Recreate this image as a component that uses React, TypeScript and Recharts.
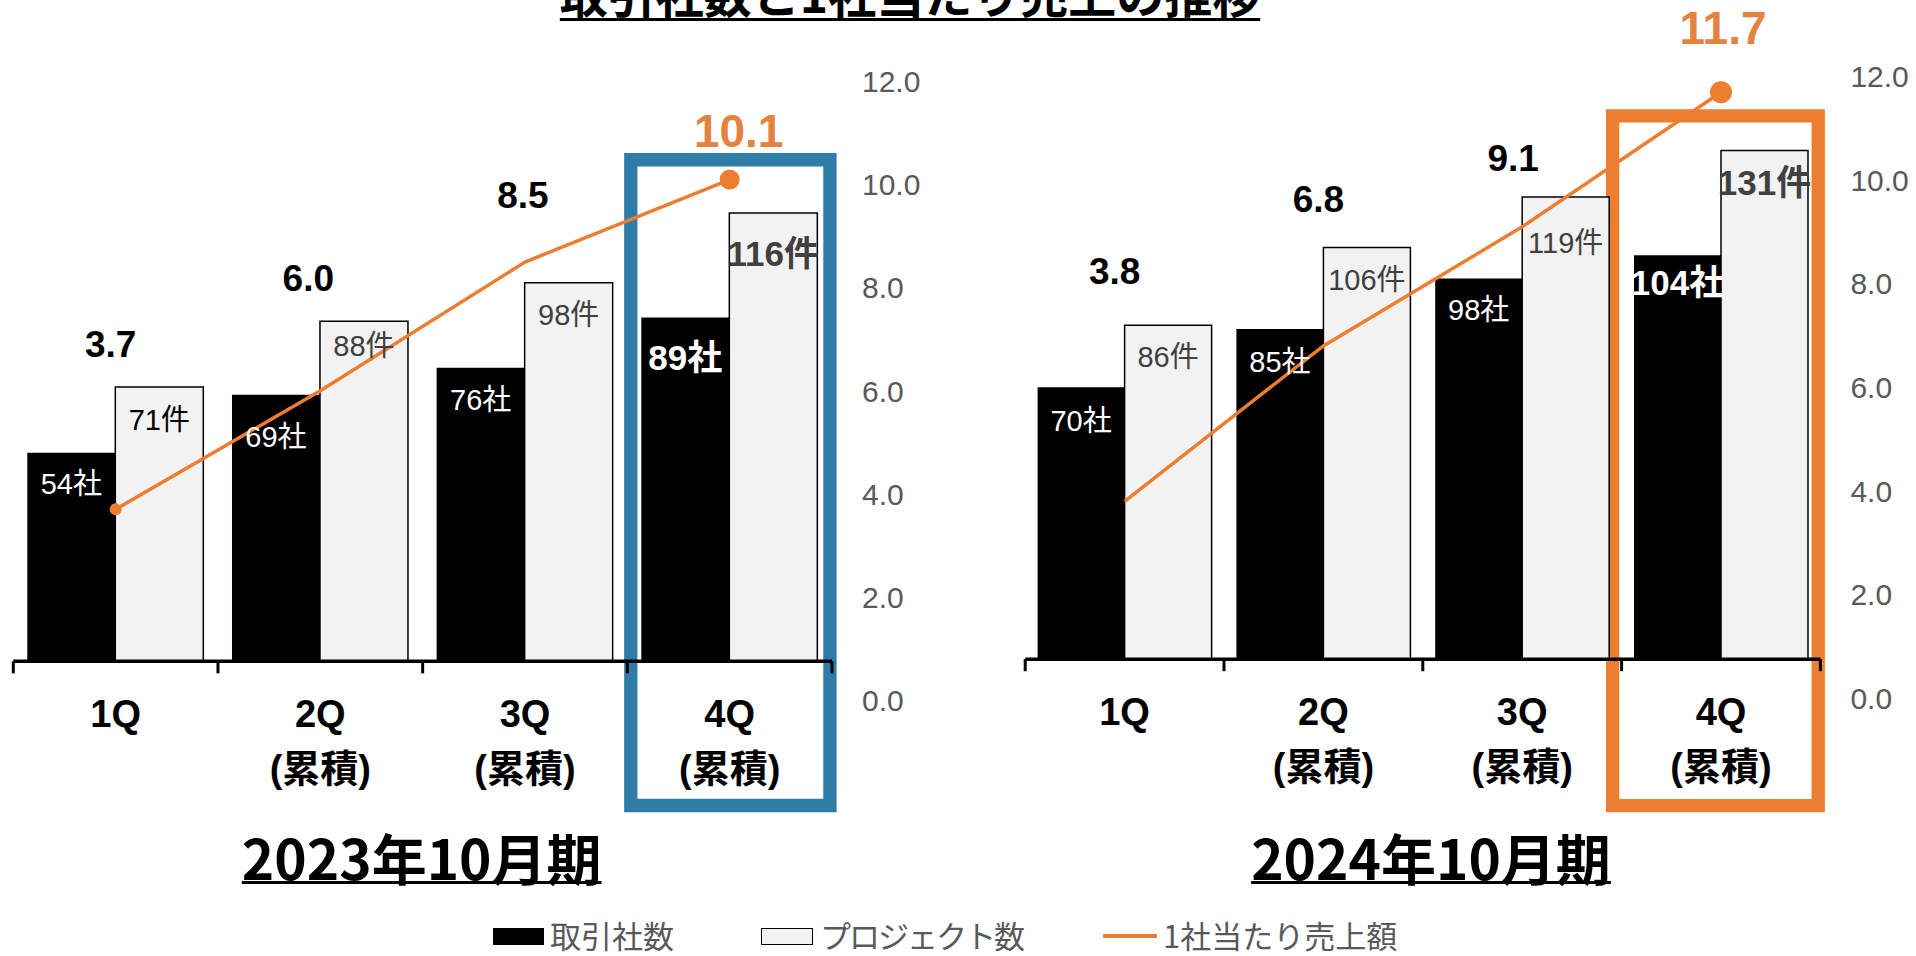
import React from 'react';
import { ComposedChart, Bar, Line, XAxis, YAxis, ReferenceLine, ReferenceArea, LabelList } from 'recharts';

// 四半期ラベル
const quarters = ['1Q', '2Q\n(累積)', '3Q\n(累積)', '4Q\n(累積)'];

// 2023年10月期
const clients2023 = [54, 69, 76, 89];
const projects2023 = [71, 88, 98, 116];
const salesPerClient2023 = [3.7, 6.0, 8.5, 10.1];

// 2024年10月期
const clients2024 = [70, 85, 98, 104];
const projects2024 = [86, 106, 119, 131];
const salesPerClient2024 = [3.8, 6.8, 9.1, 11.7];

const rateTicks = [0, 2, 4, 6, 8, 10, 12];
const seriesNames = ['取引社数', 'プロジェクト数', '1社当たり売上額'];
const periods = ['2023年10月期', '2024年10月期'];
const title = '取引社数と1社当たり売上の推移';

const ORANGE = '#ED7D31';
const LABEL_ORANGE = '#E4823F';
const BLUE = '#2E7CA8';
const LIGHT = '#F2F2F2';
const GRAY = '#595959';
const FONT = '"Liberation Sans", Arial, "Noto Sans CJK JP", sans-serif';
const JP = '"Noto Sans CJK JP", sans-serif';

// 区切り目盛り用（数値軸上のカテゴリ境界）
const boundaries = quarters.map((_, i) => i).concat(quarters.length);

const QuarterTick = (p: any) => {
  const lines = String(p.payload.value).split('\n');
  return (
    <text x={p.x} y={p.y} textAnchor="middle" fontFamily={FONT} fontWeight={700} fontSize={38} fill="#000">
      {lines.map((l, i) => (
        <tspan key={i} x={p.x} dy={i === 0 ? 27 : 55}>{l}</tspan>
      ))}
    </text>
  );
};

type ChartCfg = {
  left: number;
  width: number;
  margin: { top: number; right: number; bottom: number; left: number };
  gap: number;
  clients: number[];
  projects: number[];
  rates: number[];
  clientDy: number[];
  projectDy: number[];
  projectColor: string[];
  rateOffsets: number[][];
  dotRadius: number[];
  box: { color: string; x1: number; x2: number; y1: number; y2: number };
};

const charts: ChartCfg[] = [
  {
    left: 0,
    width: 960,
    margin: { top: 81.7, right: 38, bottom: 30, left: 13.3 },
    gap: 14,
    clients: clients2023,
    projects: projects2023,
    rates: salesPerClient2023,
    clientDy: [31, 42, 32, 40],
    projectDy: [33, 25, 32, 40],
    projectColor: ['#000', '#404040', '#404040', '#404040'],
    rateOffsets: [[-5, -165], [-12, -112], [-2, -67], [9, -49]],
    dotRadius: [6, 0, 0, 10],
    box: { color: BLUE, x1: 3.017, x2: 3.99, y1: -37.3, y2: 129.8 },
  },
  {
    left: 960,
    width: 956,
    margin: { top: 76.7, right: 5.6, bottom: 32, left: 65.2 },
    gap: 12.4,
    clients: clients2024,
    projects: projects2024,
    rates: salesPerClient2024,
    clientDy: [34, 33, 31, 27],
    projectDy: [32, 32, 46, 32],
    projectColor: ['#404040', '#404040', '#404040', '#404040'],
    rateOffsets: [[-10, -230], [-5, -146], [-9, -68], [2, -64]],
    dotRadius: [0, 0, 0, 11],
    box: { color: ORANGE, x1: 2.955, x2: 3.989, y1: -37.7, y2: 139.9 },
  },
];

function PeriodChart({ cfg }: { cfg: ChartCfg }) {
  const last = quarters.length - 1;
  const data = quarters.map((q, i) => ({
    q,
    slot: i + 0.5,
    clients: cfg.clients[i],
    projects: cfg.projects[i],
    rate: cfg.rates[i],
  }));

  const clientLabel = (p: any) => {
    const i = p.index;
    const big = i === last;
    return (
      <text
        x={p.x + p.width / 2}
        y={p.y + cfg.clientDy[i]}
        textAnchor="middle"
        dominantBaseline="central"
        fontFamily={FONT}
        fontSize={big ? 35 : 29}
        fontWeight={big ? 700 : 400}
        fill="#fff"
      >
        {p.value}社
      </text>
    );
  };

  const projectLabel = (p: any) => {
    const i = p.index;
    const big = i === last;
    return (
      <text
        x={p.x + p.width / 2}
        y={p.y + cfg.projectDy[i]}
        textAnchor="middle"
        dominantBaseline="central"
        fontFamily={FONT}
        fontSize={big ? 35 : 29}
        fontWeight={big ? 700 : 400}
        fill={cfg.projectColor[i]}
      >
        {p.value}件
      </text>
    );
  };

  const rateLabel = (p: any) => {
    const i = p.index ?? cfg.rates.indexOf(p.value);
    const [dx, dy] = cfg.rateOffsets[i];
    const big = i === last;
    return (
      <text
        x={p.x + dx}
        y={p.y + dy}
        textAnchor="middle"
        dominantBaseline="central"
        fontFamily={FONT}
        fontSize={big ? 46 : 37}
        fontWeight={700}
        fill={big ? LABEL_ORANGE : '#000'}
      >
        {Number(p.value).toFixed(1)}
      </text>
    );
  };

  const rateDot = (p: any) => {
    const r = cfg.dotRadius[p.index];
    if (!r) return <g key={`dot-${p.index}`} />;
    return <circle key={`dot-${p.index}`} cx={p.cx} cy={p.cy} r={r} fill={ORANGE} />;
  };

  return (
    <div style={{ position: 'absolute', left: cfg.left, top: 0 }}>
      <ComposedChart
        width={cfg.width}
        height={830}
        data={data}
        margin={cfg.margin}
        barCategoryGap={cfg.gap}
        barGap={0}
      >
        <XAxis
          dataKey="q"
          interval={0}
          axisLine={false}
          tickLine={false}
          tickSize={0}
          tickMargin={0}
          height={100}
          tick={<QuarterTick />}
        />
        <XAxis
          xAxisId="num"
          dataKey="slot"
          type="number"
          domain={[0, quarters.length]}
          allowDataOverflow
          hide
        />
        <YAxis yAxisId="bar" domain={[-10, 150]} allowDataOverflow hide />
        <YAxis
          yAxisId="rate"
          orientation="right"
          domain={[0, 12]}
          ticks={rateTicks}
          interval={0}
          width={90}
          axisLine={false}
          tickLine={false}
          tickSize={0}
          tickMargin={30}
          tickFormatter={(v: number) => v.toFixed(1)}
          tick={{ fill: GRAY, fontSize: 30, fontFamily: FONT }}
        />
        <Bar yAxisId="bar" dataKey="clients" name={seriesNames[0]} fill="#000" isAnimationActive={false}>
          <LabelList dataKey="clients" content={clientLabel} />
        </Bar>
        <Bar
          yAxisId="bar"
          dataKey="projects"
          name={seriesNames[1]}
          fill={LIGHT}
          stroke="#000"
          strokeWidth={1.5}
          isAnimationActive={false}
        >
          <LabelList dataKey="projects" content={projectLabel} />
        </Bar>
        <ReferenceLine xAxisId="num" yAxisId="bar" y={0} stroke="#000" strokeWidth={3.5} />
        {boundaries.map((b) => (
          <ReferenceLine
            key={b}
            xAxisId="num"
            yAxisId="bar"
            segment={[{ x: b, y: 0 }, { x: b, y: -3.1 }]}
            stroke="#000"
            strokeWidth={3}
          />
        ))}
        <ReferenceArea
          xAxisId="num"
          yAxisId="bar"
          x1={cfg.box.x1}
          x2={cfg.box.x2}
          y1={cfg.box.y1}
          y2={cfg.box.y2}
          fill="none"
          fillOpacity={0}
          stroke={cfg.box.color}
          strokeWidth={13.3}
          strokeOpacity={1}
          ifOverflow="visible"
        />
        <Line
          yAxisId="rate"
          dataKey="rate"
          name={seriesNames[2]}
          type="linear"
          stroke={ORANGE}
          strokeWidth={3.5}
          dot={rateDot}
          activeDot={false}
          isAnimationActive={false}
        >
          <LabelList dataKey="rate" content={rateLabel} />
        </Line>
      </ComposedChart>
    </div>
  );
}

const periodCenters = [421.7, 1431];

export default function App() {
  return (
    <div
      style={{
        position: 'absolute',
        left: 0,
        top: 0,
        width: 1916,
        height: 956,
        overflow: 'hidden',
        background: '#fff',
      }}
    >
      {charts.map((c, i) => (
        <PeriodChart key={i} cfg={c} />
      ))}

      <div
        style={{
          position: 'absolute',
          left: 410,
          width: 1000,
          top: -32.5,
          textAlign: 'center',
          fontFamily: JP,
          fontWeight: 700,
          fontSize: 48,
          lineHeight: 1,
          whiteSpace: 'nowrap',
          color: '#000',
          textDecoration: 'underline',
          textUnderlineOffset: '4.5px',
          textDecorationThickness: '2.5px',
        }}
      >
        {title}
      </div>

      {periods.map((p, i) => (
        <div
          key={p}
          style={{
            position: 'absolute',
            left: periodCenters[i] - 300,
            width: 600,
            top: 828.5,
            textAlign: 'center',
            fontFamily: JP,
            fontWeight: 700,
            fontSize: 55,
            lineHeight: 1,
            whiteSpace: 'nowrap',
            color: '#000',
            textDecoration: 'underline',
            textUnderlineOffset: '1px',
            textDecorationThickness: '3px',
          }}
        >
          {p}
        </div>
      ))}

      {/* 凡例 */}
      <div style={{ position: 'absolute', left: 493, top: 928, width: 51, height: 17, background: '#000' }} />
      <div style={legendText(550)}>{seriesNames[0]}</div>
      <div
        style={{
          position: 'absolute',
          left: 761,
          top: 928,
          width: 50,
          height: 15,
          background: LIGHT,
          border: '1.5px solid #000',
        }}
      />
      <div style={{ ...legendText(820), letterSpacing: '-2px' }}>{seriesNames[1]}</div>
      <div style={{ position: 'absolute', left: 1103, top: 934, width: 54, height: 4, background: ORANGE }} />
      <div style={legendText(1163)}>{seriesNames[2]}</div>
    </div>
  );
}

function legendText(left: number): React.CSSProperties {
  return {
    position: 'absolute',
    left,
    top: 916,
    height: 38,
    lineHeight: '38px',
    fontFamily: JP,
    fontSize: 31,
    color: GRAY,
    whiteSpace: 'nowrap',
  };
}
